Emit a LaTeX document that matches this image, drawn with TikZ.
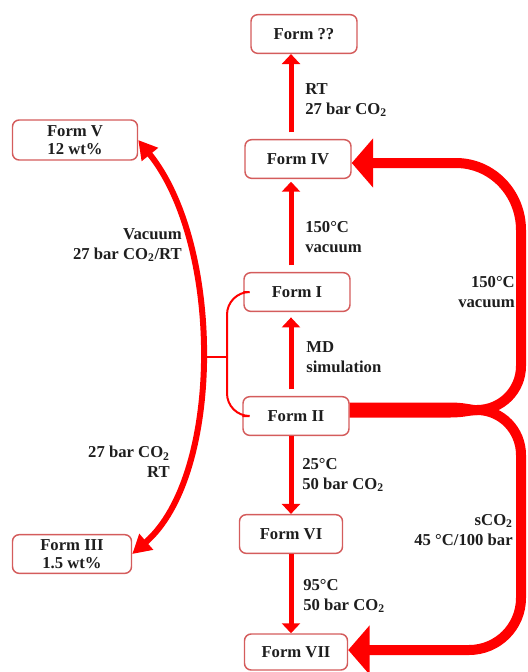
\documentclass[tikz,border=0pt]{standalone}
\usepackage{fontspec}
\setmainfont{Liberation Serif}
\usetikzlibrary{arrows.meta}
\definecolor{arr}{RGB}{255,0,0}
\definecolor{bord}{RGB}{212,92,92}
\definecolor{txt}{RGB}{30,30,30}
\tikzset{
  formbox/.style={draw=bord, line width=1.1pt, rounded corners=5pt, fill=white,
    minimum width=#1*0.75pt, minimum height=29pt, inner sep=1pt, align=center,
    font=\fontsize{12.5}{15}\selectfont\bfseries, text=txt},
  lbl/.style={inner sep=0pt, font=\fontsize{12.5}{15}\selectfont\bfseries, text=txt},
  smallarr/.style={draw=arr, line width=3.75pt, -{Triangle[length=7.5pt,width=13.5pt]}},
  bigarr/.style={draw=arr, line width=7.5pt, -{Triangle[length=16pt,width=36pt]}},
  curvarr/.style={draw=arr, line width=4.5pt, {Triangle[length=14pt,width=15pt]}-{Triangle[length=14pt,width=15pt]}},
  thinline/.style={draw=arr, line width=1.5pt}
}
\begin{document}
\begin{tikzpicture}[x=0.75pt,y=-0.75pt]
\useasboundingbox (0,0) rectangle (528,672);
% nodes
\node[formbox=106] (unk) at (304,34) {Form ??};
\node[formbox=106] (IV) at (298,159) {Form IV};
\node[formbox=106] (I) at (297,292) {Form I};
\node[formbox=106] (II) at (296,416) {Form II};
\node[formbox=103] (VI) at (291,534) {Form VI};
\node[formbox=103, minimum height=27pt] (VII) at (296,652) {Form VII};
\node[formbox=125, minimum height=30pt] (V) at (75,140) {Form V\\[-1pt]12 wt\%};
\node[formbox=119, minimum height=29pt] (III) at (72,554) {Form III\\[-1pt]1.5 wt\%};
% coordinates
\coordinate (ax) at (291,0);
\coordinate (j) at (477,410);
\coordinate (jb) at (430,410);
\coordinate (bk) at (227,357);
\coordinate (lc) at (202,357);
% vertical arrows
\draw[smallarr, shorten <=5pt] (ax |- IV.north) -- (ax |- unk.south);
\draw[smallarr, shorten <=5pt, shorten >=2pt] (ax |- I.north) -- (ax |- IV.south);
\draw[smallarr, shorten <=5pt, shorten >=4pt] (ax |- II.north) -- (ax |- I.south);
\draw[smallarr] (ax |- II.south) -- (ax |- VI.north);
\draw[smallarr] (ax |- VI.south) -- (ax |- VII.north);
% big loops
\fill[arr] (II.east |- 0,402.5) -- (450,402.5) .. controls (465,402.5) and (470,405) .. (480,405.5)
  -- (480,414.5) .. controls (470,415) and (465,417.5) .. (450,417.5) -- (II.east |- 0,417.5) -- cycle;
\draw[bigarr] (jb) -- (j) to[out=0,in=-90] (521,366) -- (521,230) to[out=90,in=0] (456,163) -- (IV.east |- 0,163);
\draw[bigarr] (jb) -- (j) to[out=0,in=90] (521,455) -- (521,598) to[out=-90,in=0] (469,650) -- (VII.east |- 0,650);
% left curve
\draw[curvarr] (V.east) .. controls (223,245) and (223,475) .. (III.east);
% bracket
\draw[thinline, rounded corners=17pt] (I.west) -- (227,292) -- (227,416) -- (II.west);
\draw[thinline] (bk) -- (lc);
% labels
\node[lbl, anchor=west, align=left] (l1) at (305,100) {RT\\27 bar CO\textsubscript{2}};
\node[lbl, anchor=west, align=left] (l2) at (305,237) {150°C\\vacuum};
\node[lbl, anchor=west, align=left] (l3) at (306,357) {MD\\simulation};
\node[lbl, anchor=west, align=left] (l4) at (302,475) {25°C\\50 bar CO\textsubscript{2}};
\node[lbl, anchor=west, align=left] (l5) at (303,596) {95°C\\50 bar CO\textsubscript{2}};
\node[lbl, anchor=east, align=right] (l6) at (515,292) {150°C\\vacuum};
\node[lbl, anchor=east, align=right] (l7) at (513,530) {sCO\textsubscript{2}\\45 °C/100 bar};
\node[lbl, anchor=east, align=right] (l8) at (182,245) {Vacuum\\27 bar CO\textsubscript{2}/RT};
\node[lbl, anchor=east, align=right] (l9) at (170,462) {27 bar CO\textsubscript{2}\\RT};
\end{tikzpicture}
\end{document}
